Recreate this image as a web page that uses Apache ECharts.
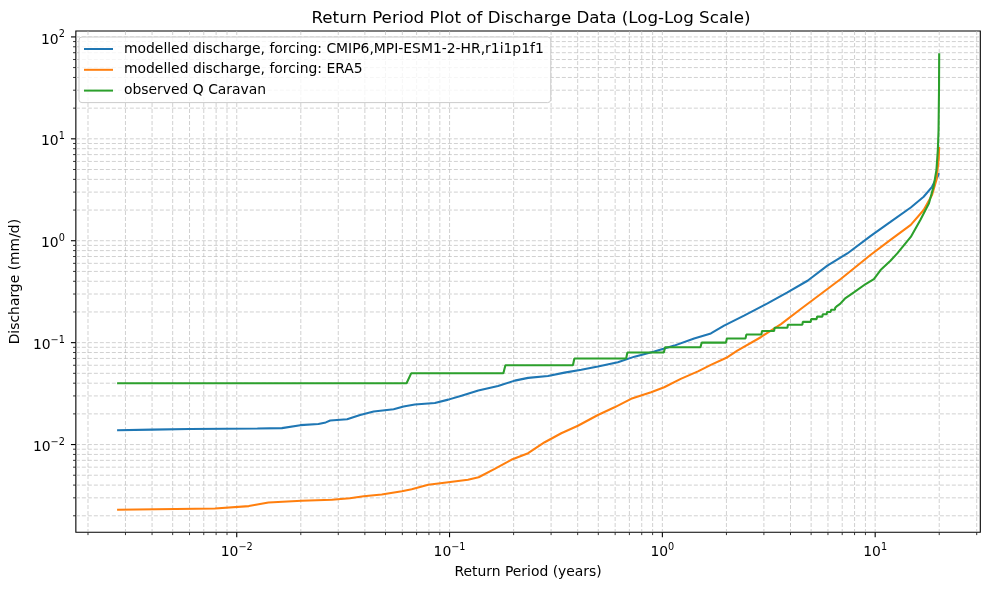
<!DOCTYPE html>
<html><head><meta charset="utf-8">
<script src="https://cdn.jsdelivr.net/npm/echarts@6/dist/echarts.min.js"></script>
<style>html,body{margin:0;padding:0;background:#fff}#c{width:989px;height:590px}</style>
</head><body><div id="c"></div>
<script>
// ---- data ----
const seriesNames = [
  'modelled discharge, forcing: CMIP6,MPI-ESM1-2-HR,r1i1p1f1',
  'modelled discharge, forcing: ERA5',
  'observed Q Caravan'
];
const cmipX = [0.00274, 0.004, 0.006, 0.009, 0.0125, 0.0163, 0.0199, 0.0242, 0.0262, 0.0275, 0.033, 0.038, 0.044, 0.0546, 0.0608, 0.0687, 0.0853, 0.0986, 0.1138, 0.1365, 0.169, 0.2025, 0.234, 0.290, 0.347, 0.416, 0.498, 0.618, 0.740, 0.917, 1.138, 1.41, 1.69, 1.95, 2.42, 3.12, 3.87, 4.81, 5.96, 7.40, 9.5, 11.8, 14.7, 16.9, 18.5, 19.2, 19.7, 19.95];
const cmipY = [0.0138, 0.0140, 0.0142, 0.0143, 0.0144, 0.0145, 0.0155, 0.0159, 0.0165, 0.0172, 0.0177, 0.0195, 0.0211, 0.0222, 0.0236, 0.0247, 0.0256, 0.0276, 0.0302, 0.0339, 0.0376, 0.0424, 0.0451, 0.0471, 0.0508, 0.0543, 0.0582, 0.0641, 0.0729, 0.0817, 0.0935, 0.110, 0.123, 0.147, 0.184, 0.243, 0.311, 0.405, 0.569, 0.750, 1.11, 1.53, 2.12, 2.70, 3.38, 3.94, 4.3, 4.6];

const era5X = [0.00274, 0.0079, 0.0114, 0.0141, 0.0202, 0.0280, 0.0340, 0.0395, 0.048, 0.0597, 0.0664, 0.0794, 0.0986, 0.122, 0.137, 0.163, 0.195, 0.234, 0.280, 0.335, 0.401, 0.498, 0.596, 0.713, 0.885, 1.02, 1.22, 1.47, 1.69, 2.0, 2.25, 2.90, 3.61, 4.47, 5.55, 6.89, 9.5, 11.8, 14.7, 16.9, 18.5, 19.4, 19.7, 19.9, 19.98];
const era5Y = [0.00229, 0.00236, 0.00249, 0.00270, 0.00281, 0.00287, 0.00297, 0.00311, 0.00324, 0.00348, 0.00364, 0.00403, 0.00427, 0.00451, 0.00478, 0.00578, 0.00708, 0.00822, 0.01054, 0.0129, 0.0153, 0.0195, 0.0232, 0.0281, 0.0326, 0.0365, 0.0441, 0.0523, 0.0605, 0.0710, 0.0835, 0.113, 0.152, 0.214, 0.300, 0.421, 0.724, 1.02, 1.43, 2.0, 2.81, 3.94, 5.3, 6.5, 8.3];

const obsX = [0.00274, 0.0628, 0.066, 0.179, 0.183, 0.380, 0.386, 0.676, 0.685, 1.016, 1.03, 1.51, 1.53, 1.99, 2.01, 2.46, 2.48, 2.92, 2.94, 3.35, 3.37, 3.87, 3.89, 4.55, 4.57, 4.98, 5.00, 5.31, 5.33, 5.65, 5.67, 5.92, 5.94, 6.18, 6.20, 6.47, 6.49, 6.62, 6.64, 6.74, 6.76, 6.84, 6.86, 6.92, 7.2, 7.94, 9.02, 9.86, 10.6, 11.8, 12.7, 14.7, 16.3, 17.9, 18.8, 19.4, 19.7, 19.85, 19.95, 19.99];
const obsY = [0.04, 0.04, 0.05, 0.05, 0.06, 0.06, 0.07, 0.07, 0.08, 0.08, 0.09, 0.09, 0.10, 0.10, 0.11, 0.11, 0.12, 0.12, 0.13, 0.13, 0.14, 0.14, 0.15, 0.15, 0.16, 0.16, 0.17, 0.17, 0.18, 0.18, 0.19, 0.19, 0.20, 0.20, 0.21, 0.21, 0.22, 0.22, 0.23, 0.23, 0.24, 0.24, 0.25, 0.25, 0.27, 0.311, 0.376, 0.421, 0.516, 0.637, 0.751, 1.09, 1.60, 2.33, 3.38, 4.93, 7.74, 12.0, 30.0, 69.0];

const xMajorTicks = [0.01, 0.1, 1, 10];
const yMajorTicks = [0.01, 0.1, 1, 10, 100];
const minorMantissas = [2, 3, 4, 5, 6, 7, 8, 9];
const decades = [0.001, 0.01, 0.1, 1, 10];

// ---- axis extents (matplotlib 5% log margins) ----
const X_MIN = Math.pow(10, -2.756), X_MAX = Math.pow(10, 1.494);
const Y_MIN = Math.pow(10, -2.861), Y_MAX = Math.pow(10, 2.058);

const FONT = 'DejaVu Sans';
const COLORS = ['#1f77b4', '#ff7f0e', '#2ca02c'];
const GRID_COLOR = '#bdbdbd';

function zip(xs, ys) { return xs.map((x, i) => [x, ys[i]]); }

// tick/grid items: [x, y, axis(0=x,1=y), major]
const tickItems = [];
function inX(v) { return v >= X_MIN && v <= X_MAX; }
function inY(v) { return v >= Y_MIN && v <= Y_MAX; }
decades.forEach(d => minorMantissas.forEach(m => {
  const v = +(d * m).toPrecision(6);
  if (inX(v)) tickItems.push([v, Y_MIN, 0, 0]);
  if (inY(v)) tickItems.push([X_MIN, v, 1, 0]);
}));
xMajorTicks.forEach(v => tickItems.push([v, Y_MIN, 0, 1]));
yMajorTicks.forEach(v => tickItems.push([X_MIN, v, 1, 1]));

function renderTick(params, api) {
  const cs = params.coordSys;
  const axis = api.value(2), major = api.value(3) === 1;
  const p = api.coord([api.value(0), api.value(1)]);
  const len = major ? 4.9 : 2.8;
  const tw = major ? 1.1 : 0.8;
  const grid = { stroke: GRID_COLOR, lineWidth: 0.7, lineDash: [4, 2] };
  const tick = { stroke: '#000', lineWidth: tw };
  if (axis === 1) {
    const y = p[1];
    return { type: 'group', children: [
      { type: 'line', shape: { x1: cs.x, y1: y, x2: cs.x + cs.width, y2: y }, style: grid },
      { type: 'line', shape: { x1: cs.x - len, y1: y, x2: cs.x, y2: y }, style: tick }
    ]};
  }
  const x = p[0], b = cs.y + cs.height;
  return { type: 'group', children: [
    { type: 'line', shape: { x1: x, y1: cs.y, x2: x, y2: b }, style: grid },
    { type: 'line', shape: { x1: x, y1: b, x2: x, y2: b + len }, style: tick }
  ]};
}

function powLabel(v) {
  const e = Math.log10(v);
  const r = Math.round(e);
  if (Math.abs(e - r) > 1e-6) return '';
  const s = r < 0 ? '\u2212' + Math.abs(r) : String(r);
  return '{b|10}{s|' + s + '}';
}
const rich = {
  b: { fontFamily: FONT, fontSize: 13.9, color: '#000', lineHeight: 17, verticalAlign: 'bottom' },
  s: { fontFamily: FONT, fontSize: 9.7, color: '#000', lineHeight: 10, verticalAlign: 'top' }
};

const chart = echarts.init(document.getElementById('c'), null, { renderer: 'canvas' });
chart.setOption({
  animation: false,
  backgroundColor: '#fff',
  title: {
    text: 'Return Period Plot of Discharge Data (Log-Log Scale)',
    left: 526, top: 5, textAlign: 'center',
    textStyle: { fontFamily: FONT, fontSize: 16.7, fontWeight: 'normal', color: '#000' }
  },
  legend: {
    orient: 'vertical', left: 79, top: 37,
    padding: [5, 7, 5, 5], itemGap: 6.8,
    itemWidth: 29, itemHeight: 2, icon: 'rect',
    backgroundColor: 'rgba(255,255,255,0.8)', borderColor: '#cccccc', borderWidth: 1, borderRadius: 3,
    textStyle: { fontFamily: FONT, fontSize: 13.9, color: '#000', padding: [0, 0, 0, 6] },
    data: seriesNames
  },
  grid: { left: 72.3, top: 31, width: 908, height: 501.3, show: true, borderColor: '#000', borderWidth: 1.1, backgroundColor: 'transparent' },
  xAxis: {
    type: 'log', logBase: 10, min: X_MIN, max: X_MAX,
    name: 'Return Period (years)', nameLocation: 'middle', nameGap: 33,
    nameTextStyle: { fontFamily: FONT, fontSize: 13.9, color: '#000' },
    axisLine: { show: false }, axisTick: { show: false }, splitLine: { show: false },
    axisLabel: { formatter: powLabel, rich: rich, margin: 10 }
  },
  yAxis: {
    type: 'log', logBase: 10, min: Y_MIN, max: Y_MAX,
    name: 'Discharge (mm/d)', nameLocation: 'middle', nameGap: 47,
    nameTextStyle: { fontFamily: FONT, fontSize: 13.9, color: '#000' },
    axisLine: { show: false }, axisTick: { show: false }, splitLine: { show: false },
    axisLabel: { formatter: powLabel, rich: rich, margin: 11, padding: [3, 0, 0, 0] }
  },
  series: [
    { type: 'custom', name: 'ticks', renderItem: renderTick, data: tickItems, clip: false, silent: true, z: 1,
      encode: { x: 0, y: 1 } },
    { type: 'line', name: seriesNames[0], data: zip(cmipX, cmipY), showSymbol: false, symbol: 'none', z: 3,
      lineStyle: { width: 2.08, color: COLORS[0] }, itemStyle: { color: COLORS[0] } },
    { type: 'line', name: seriesNames[1], data: zip(era5X, era5Y), showSymbol: false, symbol: 'none', z: 3,
      lineStyle: { width: 2.08, color: COLORS[1] }, itemStyle: { color: COLORS[1] } },
    { type: 'line', name: seriesNames[2], data: zip(obsX, obsY), showSymbol: false, symbol: 'none', z: 3,
      lineStyle: { width: 2.08, color: COLORS[2] }, itemStyle: { color: COLORS[2] } }
  ]
});
</script></body></html>
